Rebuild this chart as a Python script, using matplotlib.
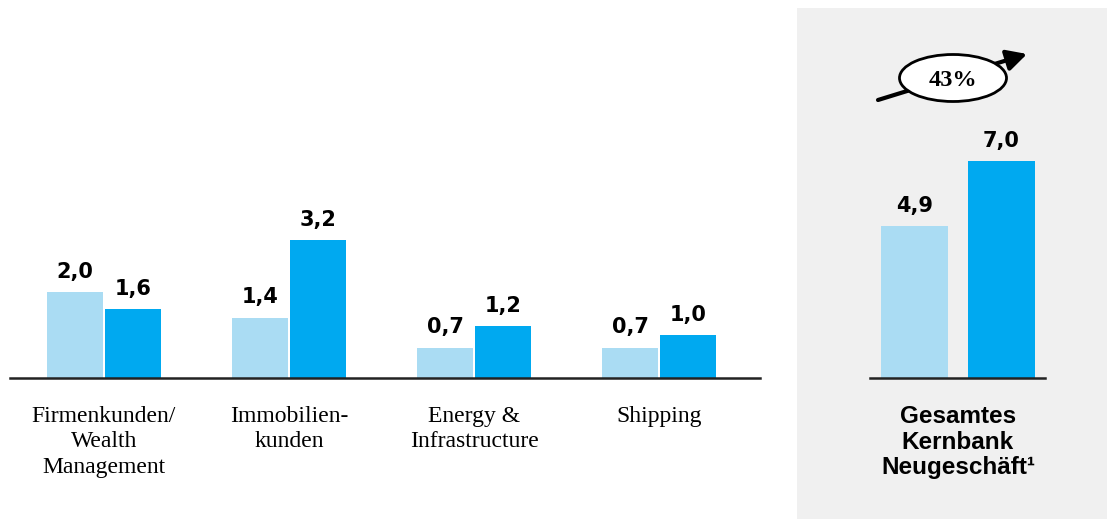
import matplotlib
matplotlib.use("Agg")
import matplotlib.pyplot as plt
from matplotlib.patches import Ellipse, Rectangle, FancyArrowPatch

categories = ["Firmenkunden/\nWealth\nManagement", "Immobilien-\nkunden", "Energy &\nInfrastructure", "Shipping"]
series_prev = [2.0, 1.4, 0.7, 0.7]
series_curr = [1.6, 3.2, 1.2, 1.0]
total_label = "Gesamtes\nKernbank\nNeugeschäft¹"
total_prev = 4.9
total_curr = 7.0
growth_label = "43%"

light = "#aadcf3"
dark = "#00a9f0"

W, H = 1107, 519
fig = plt.figure(figsize=(W / 100, H / 100), dpi=100)
fig.patch.set_facecolor("white")

def fx(px):
    return px / W

def fy(py):
    return 1 - py / H

# background pixel axes
bg = fig.add_axes([0, 0, 1, 1], zorder=0)
bg.set_xlim(0, W)
bg.set_ylim(H, 0)
bg.axis("off")
bg.add_patch(Rectangle((797, 8), W - 797, H - 8, facecolor="#f0f0f0", edgecolor="none"))

def fmt(v):
    return f"{v:.1f}".replace(".", ",")

VAL_FONT = dict(fontsize=15, fontweight="bold", family="DejaVu Sans")

# left axes
base_y = 378
top_y = 8
ax = fig.add_axes([fx(10), fy(base_y), fx(760 - 10), (base_y - top_y) / H], zorder=1)
ax.patch.set_alpha(0)
unit_px = 185.0
ax.set_xlim(-94 / unit_px, (760 - 104) / unit_px)
ax.set_ylim(0, (base_y - top_y) / 43.0)
x = list(range(len(categories)))
w = 56 / unit_px
off = 29 / unit_px
b1 = ax.bar([i - off for i in x], series_prev, width=w, color=light)
b2 = ax.bar([i + off for i in x], series_curr, width=w, color=dark)
for bars, vals in ((b1, series_prev), (b2, series_curr)):
    for r, v in zip(bars, vals):
        ax.annotate(fmt(v), (r.get_x() + r.get_width() / 2, r.get_height()),
                    xytext=(0, 7.5), textcoords="offset points", ha="center", va="bottom", **VAL_FONT)
for s in ("top", "right", "left"):
    ax.spines[s].set_visible(False)
ax.spines["bottom"].set_linewidth(1.8)
ax.spines["bottom"].set_color("#222222")
ax.set_yticks([])
ax.set_xticks(x)
ax.set_xticklabels(categories, family="Liberation Serif", fontsize=17, linespacing=1.28)
ax.tick_params(axis="x", length=0, pad=20)

# right axes
ax2 = fig.add_axes([fx(870), fy(base_y), fx(1045 - 870), (base_y - top_y) / H], zorder=1)
ax2.patch.set_alpha(0)
ax2.set_xlim(-0.88, 0.87)
ax2.set_ylim(0, (base_y - top_y) / 31.0)
r1 = ax2.bar([-0.435], [total_prev], width=0.67, color=light)
r2 = ax2.bar([0.435], [total_curr], width=0.67, color=dark)
for r, v in ((r1[0], total_prev), (r2[0], total_curr)):
    ax2.annotate(fmt(v), (r.get_x() + r.get_width() / 2, r.get_height()),
                 xytext=(0, 7.5), textcoords="offset points", ha="center", va="bottom", **VAL_FONT)
for s in ("top", "right", "left"):
    ax2.spines[s].set_visible(False)
ax2.spines["bottom"].set_linewidth(1.8)
ax2.spines["bottom"].set_color("#222222")
ax2.set_yticks([])
ax2.set_xticks([0])
ax2.set_xticklabels([total_label], family="Liberation Sans", fontweight="bold", fontsize=17.5, linespacing=1.15)
ax2.tick_params(axis="x", length=0, pad=19.5)

# overlay for arrow and ellipse
ov = fig.add_axes([0, 0, 1, 1], zorder=3)
ov.set_xlim(0, W)
ov.set_ylim(H, 0)
ov.axis("off")
ov.patch.set_alpha(0)
ov.add_patch(FancyArrowPatch((878, 100), (1027, 54), arrowstyle="-|>,head_length=0.8,head_width=0.42",
                             mutation_scale=15, lw=3, color="black", shrinkA=0, shrinkB=0, zorder=3))
ov.add_patch(Ellipse((953, 78), 107, 47, facecolor="white", edgecolor="black", lw=2, zorder=4))
ov.text(953, 80, growth_label, ha="center", va="center", fontsize=17.5, fontweight="bold",
        family="Liberation Serif", zorder=5)

fig.savefig("out.png", dpi=100)
